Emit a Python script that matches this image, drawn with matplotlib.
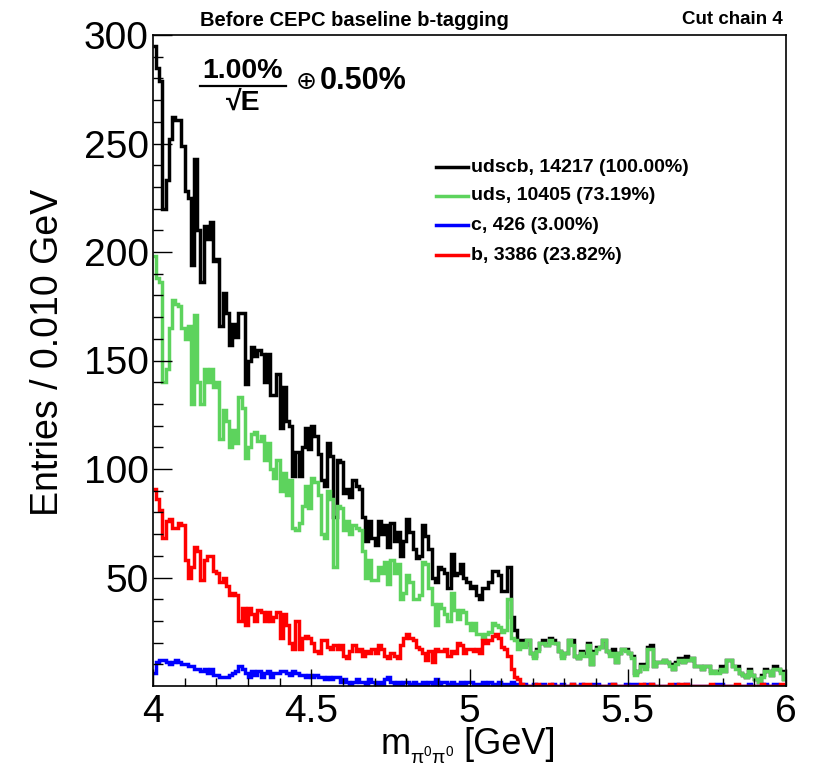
import numpy as np
import matplotlib
matplotlib.use("Agg")
import matplotlib.pyplot as plt
from matplotlib.lines import Line2D

plt.rcParams['font.family'] = ['Liberation Sans', 'DejaVu Sans']
plt.rcParams['mathtext.fontset'] = 'custom'
plt.rcParams['mathtext.rm'] = 'Liberation Sans'
plt.rcParams['mathtext.it'] = 'Liberation Sans'

# m(pi0 pi0) histogram, 200 bins of 0.010 GeV from 4 to 6 GeV
edges = np.linspace(4.0, 6.0, 201)

uds = [
    198, 188, 186, 140, 146, 165, 178, 176, 175, 165,
    160, 166, 130, 171, 140, 130, 146, 140, 146, 138,
    140, 114, 127, 122, 110, 118, 112, 133, 128, 105,
    110, 116, 117, 113, 115, 104, 112, 100, 96, 104,
    90, 98, 88, 95, 73, 72, 75, 83, 92, 82,
    96, 94, 88, 70, 68, 90, 86, 55, 83, 82,
    72, 76, 70, 74, 73, 72, 62, 50, 58, 49,
    49, 55, 52, 57, 47, 58, 52, 56, 40, 43,
    51, 48, 40, 40, 42, 57, 56, 45, 38, 28,
    38, 36, 33, 30, 43, 35, 31, 35, 34, 29,
    26, 29, 24, 24, 22, 24, 25, 29, 28, 27,
    25, 26, 40, 22, 21, 17, 20, 18, 21, 15,
    13, 16, 20, 20, 19, 21, 20, 20, 16, 13,
    15, 21, 19, 14, 13, 15, 14, 19, 10, 15,
    17, 18, 21, 16, 14, 15, 11, 15, 17, 16,
    15, 13, 5, 7, 9, 8, 17, 17, 9, 11,
    11, 12, 11, 9, 8, 10, 12, 11, 12, 12,
    13, 9, 9, 8, 9, 9, 6, 7, 6, 8,
    7, 12, 12, 9, 8, 6, 5, 4, 7, 5,
    3, 2, 4, 7, 7, 5, 8, 8, 6, 3,
]

c = [
    6, 11, 12, 12, 11, 10, 11, 12, 11, 10,
    10, 9, 9, 8, 8, 7, 8, 6, 8, 5,
    5, 4, 4, 4, 5, 6, 7, 9, 8, 6,
    4, 7, 5, 7, 4, 6, 7, 4, 6, 6,
    7, 7, 6, 5, 7, 6, 5, 5, 4, 5,
    4, 5, 4, 4, 3, 4, 3, 4, 4, 2,
    3, 2, 1, 2, 3, 2, 2, 1, 3, 2,
    1, 2, 1, 3, 4, 2, 1, 2, 1, 2,
    2, 1, 2, 1, 1, 2, 1, 2, 1, 3,
    1, 2, 2, 1, 2, 1, 1, 2, 1, 2,
    2, 1, 1, 1, 2, 1, 2, 1, 1, 2,
    1, 1, 1, 2, 1, 1, 0, 1, 0, 0,
    1, 0, 0, 1, 0, 0, 1, 0, 0, 1,
    0, 0, 1, 0, 0, 1, 0, 0, 0, 1,
    1, 0, 0, 0, 1, 1, 0, 0, 0, 1,
    0, 1, 1, 0, 0, 1, 1, 1, 0, 0,
    0, 0, 0, 0, 0, 1, 0, 0, 1, 0,
    0, 0, 0, 0, 0, 0, 0, 0, 1, 1,
    0, 0, 0, 0, 0, 0, 0, 0, 1, 0,
    0, 0, 0, 1, 0, 0, 1, 0, 0, 0,
]

b = [
    91, 86, 81, 68, 76, 77, 73, 73, 75, 74,
    58, 50, 55, 64, 62, 49, 58, 60, 60, 53,
    52, 48, 50, 46, 42, 43, 42, 30, 36, 28,
    36, 33, 30, 35, 34, 30, 34, 30, 32, 34,
    22, 33, 28, 20, 17, 30, 17, 22, 23, 22,
    20, 16, 15, 21, 21, 18, 17, 19, 17, 19,
    14, 13, 16, 19, 16, 17, 14, 16, 15, 17,
    15, 19, 17, 14, 13, 15, 14, 13, 19, 22,
    24, 22, 21, 18, 17, 15, 12, 16, 11, 17,
    16, 16, 17, 14, 16, 15, 20, 19, 15, 17,
    17, 16, 17, 15, 21, 20, 21, 23, 24, 22,
    18, 17, 14, 8, 4, 3, 1, 0, 0, 0,
    0, 1, 0, 0, 0, 1, 0, 0, 0, 0,
    0, 0, 1, 0, 0, 0, 1, 1, 0, 0,
    0, 0, 0, 0, 0, 1, 0, 0, 0, 0,
    0, 0, 0, 0, 1, 0, 0, 1, 0, 0,
    0, 0, 0, 1, 0, 0, 1, 0, 1, 0,
    0, 0, 0, 0, 0, 0, 1, 0, 0, 0,
    0, 0, 0, 0, 1, 0, 0, 0, 0, 0,
    0, 0, 1, 0, 0, 0, 0, 0, 1, 0,
]

# the inclusive sample is the sum of the flavour components
udscb = np.array(uds) + np.array(c) + np.array(b)

legend_labels = ["udscb, 14217 (100.00%)", "uds, 10405 (73.19%)",
                 "c, 426 (3.00%)", "b, 3386 (23.82%)"]
colors = ["black", "#5dd35d", "#0000ff", "#ff0000"]

fig = plt.figure(figsize=(8.16, 7.66), dpi=100)
ax = fig.add_axes([153/816, 1 - 686/766, 633/816, 651/766])

for vals, col in zip([udscb, uds, c, b], colors):
    ax.stairs(vals, edges, color=col, linewidth=2.5, baseline=None)

ax.set_xlim(4, 6)
ax.set_ylim(0, 300)
ax.set_xticks([4, 4.5, 5, 5.5, 6])
ax.set_xticklabels(["4", "4.5", "5", "5.5", "6"])
ax.set_xticks(np.arange(4.1, 6.0, 0.1), minor=True)
ax.set_yticks([50, 100, 150, 200, 250, 300])
ax.set_yticks(np.arange(10, 300, 10), minor=True)
ax.tick_params(axis='both', which='both', direction='in', labelsize=28,
               top=False, right=False, width=1)
ax.tick_params(axis='y', which='major', length=14, pad=3)
ax.tick_params(axis='y', which='minor', length=7)
ax.tick_params(axis='x', which='major', length=12, pad=6)
ax.tick_params(axis='x', which='minor', length=6)
for s in ax.spines.values():
    s.set_linewidth(1.2)

fig.text(48/816, 1 - 352/766, "Entries / 0.010 GeV", rotation=90,
         ha='center', va='center', fontsize=27)

# x axis title built from pieces so the subscript stays small
fig.text(381/816, 1 - 745/766, "m", ha='left', va='center', fontsize=26)
fig.text(410/816, 1 - 756/766, r"$\mathrm{π^0π^0}$", ha='left',
         va='center', fontsize=14)
fig.text(463/816, 1 - 745/766, "[GeV]", ha='left', va='center', fontsize=26)

fig.text(200/816, 1 - 20/766, "Before CEPC baseline b-tagging",
         ha='left', va='center', fontsize=14.5, fontweight='bold')
fig.text(783/816, 1 - 20/766, "Cut chain 4",
         ha='right', va='center', fontsize=13.5, fontweight='bold')

# resolution term: 1.00%/sqrt(E) (+) 0.50%
fig.text(243/816, 1 - 71/766, "1.00%", ha='center', va='center',
         fontsize=20.5, fontweight='bold')
fig.add_artist(Line2D([200/816, 286/816], [1 - 86/766, 1 - 86/766],
                      transform=fig.transFigure, color='black', linewidth=1.6))
fig.text(243/816, 1 - 103/766, "√E", ha='center', va='center',
         fontsize=20.5, fontweight='bold')
fig.text(306/816, 1 - 82/766, "⊕", ha='center', va='center',
         fontsize=18, family=['DejaVu Sans'])
fig.text(320/816, 1 - 81/766, "0.50%", ha='left', va='center',
         fontsize=22, fontweight='bold')

legend_y = [167, 196, 225, 255]
for ypx, col, lab in zip(legend_y, colors, legend_labels):
    yf = 1 - ypx/766
    fig.add_artist(Line2D([436/816, 468/816], [yf, yf], transform=fig.transFigure,
                          color=col, linewidth=2.5))
    fig.text(471/816, yf, lab, ha='left', va='center', fontsize=14,
             fontweight='bold')

fig.savefig("out.png", dpi=100)
